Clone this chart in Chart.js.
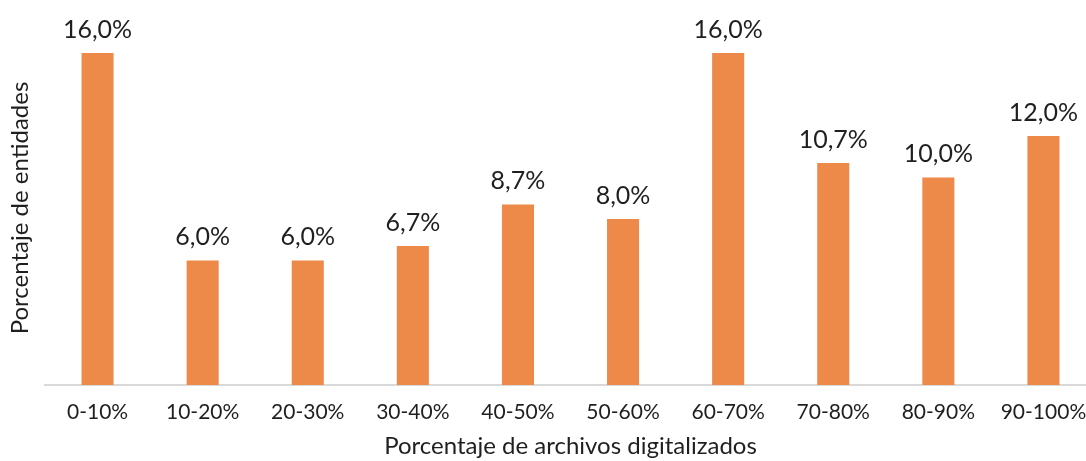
<!DOCTYPE html>
<html>
<head>
<meta charset="utf-8">
<script src="https://cdn.jsdelivr.net/npm/chart.js@4"></script>
<style>
  html, body { margin: 0; padding: 0; background: #fff; overflow: hidden; }
  #wrap { width: 1100px; height: 461px; }
</style>
</head>
<body>
<div id="wrap"><canvas id="chart"></canvas></div>
<script>
const categories = ['0-10%', '10-20%', '20-30%', '30-40%', '40-50%', '50-60%', '60-70%', '70-80%', '80-90%', '90-100%'];
const shares = [16.0, 6.0, 6.0, 6.7, 8.7, 8.0, 16.0, 10.7, 10.0, 12.0];
const xTitle = 'Porcentaje de archivos digitalizados';
const yTitle = 'Porcentaje de entidades';

const FONT = 'Lato, "DejaVu Sans", sans-serif';
const INK = '#1f1f1f';

// value labels above bars + rotated y title
const labelPlugin = {
    id: 'labels',
    afterDatasetsDraw(chart) {
        const ctx = chart.ctx;
        const meta = chart.getDatasetMeta(0);
        ctx.save();
        ctx.fillStyle = INK;
        ctx.font = '25px ' + FONT;
        ctx.textAlign = 'center';
        ctx.textBaseline = 'alphabetic';
        meta.data.forEach((bar, i) => {
            const txt = shares[i].toFixed(1).replace('.', ',') + '%';
            ctx.fillText(txt, bar.x, bar.y - 15);
        });
        ctx.translate(28, 208);
        ctx.rotate(-Math.PI / 2);
        ctx.font = '24px ' + FONT;
        ctx.fillText(yTitle, 0, 0);
        ctx.restore();
    }
};

const ctx = document.getElementById('chart').getContext('2d');
new Chart(ctx, {
    type: 'bar',
    data: {
        labels: categories,
        datasets: [{
            data: shares,
            backgroundColor: '#ED8949',
            barPercentage: 0.305,
            categoryPercentage: 1
        }]
    },
    options: {
        responsive: true,
        maintainAspectRatio: false,
        animation: false,
        layout: { padding: { left: 45, right: 4, top: 0, bottom: 0 } },
        plugins: {
            legend: { display: false },
            tooltip: { enabled: false }
        },
        scales: {
            x: {
                grid: { display: false },
                border: { color: '#d9d9d9', width: 2 },
                ticks: { color: INK, font: { family: FONT, size: 21 }, padding: 7, maxRotation: 0 },
                title: { display: true, text: xTitle, color: INK, font: { family: FONT, size: 24 }, padding: { top: 0, bottom: 0 } }
            },
            y: {
                display: false,
                min: 0,
                max: 18.55
            }
        }
    },
    plugins: [labelPlugin]
});
</script>
</body>
</html>
